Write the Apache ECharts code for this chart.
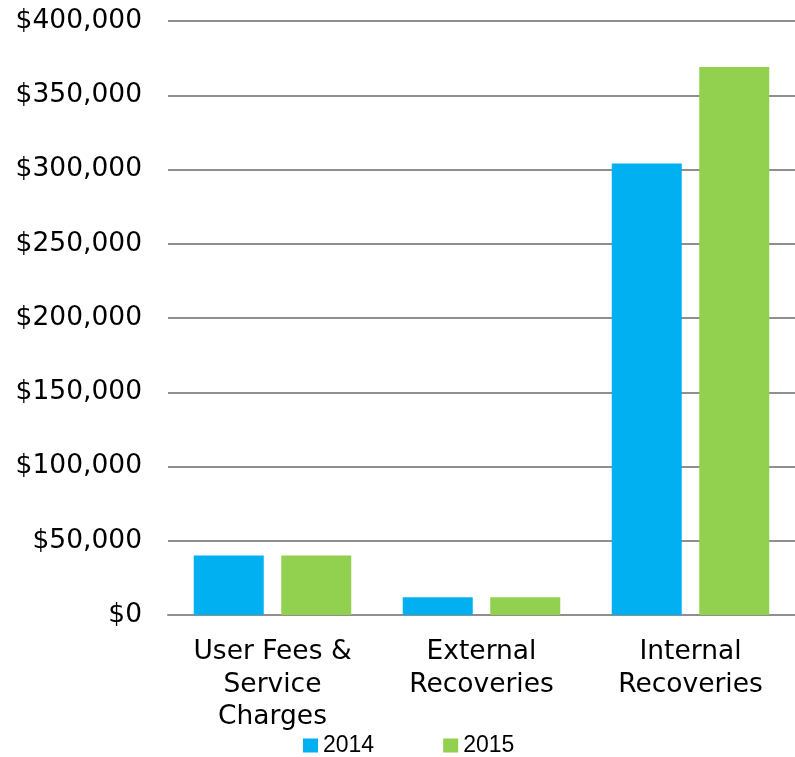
<!DOCTYPE html>
<html>
<head>
<meta charset="utf-8">
<script src="https://cdn.jsdelivr.net/npm/echarts@6/dist/echarts.min.js"></script>
<style>
  html, body { margin: 0; padding: 0; background: #fff; }
  #chart { width: 795px; height: 757px; }
</style>
</head>
<body>
<div id="chart"></div>
<script>
// Revenue categories and yearly amounts
const categories = ['User Fees &\nService\nCharges', 'External\nRecoveries', 'Internal\nRecoveries'];
const seriesNames = ['2014', '2015'];
const values2014 = [40000, 12000, 304000];
const values2015 = [40000, 12000, 369000];
const yTicks = { min: 0, max: 400000, interval: 50000 };

const colors = ['#00b0f0', '#92d050'];
const axisFont = 'Verdana, "DejaVu Sans", sans-serif';

const chart = echarts.init(document.getElementById('chart'), null, { renderer: 'canvas' });

function money(v) {
  return '$' + v.toString().replace(/\B(?=(\d{3})+(?!\d))/g, ',');
}

chart.setOption({
  animation: false,
  backgroundColor: '#ffffff',
  color: colors,
  grid: { left: 168, top: 21, width: 631, height: 594, containLabel: false },
  legend: {
    data: seriesNames,
    top: 729,
    left: 298,
    itemWidth: 15,
    itemHeight: 14,
    itemGap: 69,
    icon: 'rect',
    textStyle: { fontFamily: '"Liberation Sans", Arial, sans-serif', fontSize: 23, color: '#000' }
  },
  xAxis: {
    type: 'category',
    data: categories,
    axisLine: { show: true, lineStyle: { color: '#8f8f8f', width: 2 } },
    axisTick: { show: false },
    axisLabel: {
      interval: 0,
      margin: 21,
      color: '#000',
      fontFamily: axisFont,
      fontSize: 26.5,
      lineHeight: 32.5,
      align: 'center'
    }
  },
  yAxis: {
    type: 'value',
    min: yTicks.min,
    max: yTicks.max,
    interval: yTicks.interval,
    axisLine: { show: false },
    axisTick: { show: false },
    splitLine: { lineStyle: { color: '#8f8f8f', width: 2 } },
    axisLabel: {
      margin: 26,
      color: '#000',
      fontFamily: axisFont,
      fontSize: 26.5,
      formatter: money
    }
  },
  series: [
    { name: seriesNames[0], type: 'bar', data: values2014, barWidth: 70, barGap: '25%' },
    { name: seriesNames[1], type: 'bar', data: values2015, barWidth: 70, barGap: '25%' }
  ]
});
</script>
</body>
</html>
